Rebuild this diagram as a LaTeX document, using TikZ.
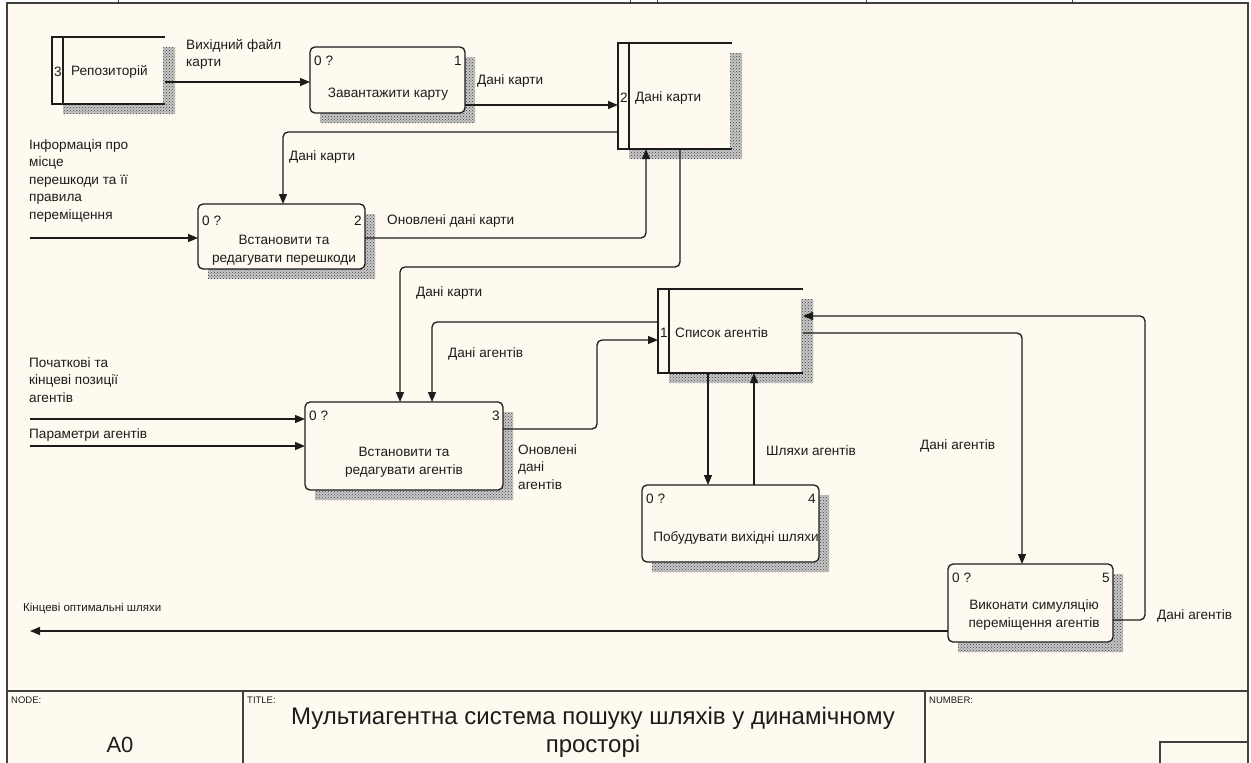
\documentclass[tikz,border=0pt]{standalone}
\usepackage{fontspec}
\setmainfont{Liberation Sans}
\usetikzlibrary{arrows.meta,calc,patterns}
\definecolor{bg}{HTML}{FFFAEF}
\definecolor{ink}{HTML}{1C1C1C}
\newcommand\mkpshadow[1]{%
  \fill[shade] ($(#1.north east)+(-1,10)$) -- ($(#1.north east)+(10,10)$) -- ($(#1.south east)+(10,10)$) -- ($(#1.south west)+(10,10)$) -- ($(#1.south west)+(10,0)$) -- ($(#1.south east)+(-1,0)$) -- cycle;
  \fill[shadedots] ($(#1.north east)+(-1,10)$) -- ($(#1.north east)+(10,10)$) -- ($(#1.south east)+(10,10)$) -- ($(#1.south west)+(10,10)$) -- ($(#1.south west)+(10,0)$) -- ($(#1.south east)+(-1,0)$) -- cycle;}
\newcommand\mksshadow[1]{%
  \fill[shade] ($(#1.north east)+(-2,10)$) -- ($(#1.north east)+(10,10)$) -- ($(#1.south east)+(10,10)$) -- ($(#1.south west)+(11,10)$) -- ($(#1.south west)+(11,0)$) -- ($(#1.south east)+(-2,0)$) -- cycle;
  \fill[shadedots] ($(#1.north east)+(-2,10)$) -- ($(#1.north east)+(10,10)$) -- ($(#1.south east)+(10,10)$) -- ($(#1.south west)+(11,10)$) -- ($(#1.south west)+(11,0)$) -- ($(#1.south east)+(-2,0)$) -- cycle;}
\newcommand\mkstore[1]{%
  \draw[ln] (#1.north west) rectangle ($(#1.south west)+(11,0)$);
  \draw[ln] (#1.north west) -- (#1.north east);
  \draw[ln] (#1.south west) -- (#1.south east);}
\begin{document}
\begin{tikzpicture}[x=1pt,y=-1pt,
  ln/.style={draw=ink, line width=1.3pt},
  flow/.style={ln, rounded corners=5pt, -{Triangle[length=10pt,width=8pt]}},
  procbox/.style={ln, fill=bg, rounded corners=5pt, inner sep=0pt, outer sep=0pt},
  storebox/.style={inner sep=0pt, outer sep=0pt},
  shade/.style={fill=black!22},
  shadedots/.style={pattern=crosshatch dots, pattern color=black!75},
  lbl/.style={font=\fontsize{13.6}{17.5}\selectfont, text=ink, inner sep=0pt, align=left},
  small/.style={font=\fontsize{11.5}{14}\selectfont, text=ink, inner sep=0pt},
  tiny/.style={font=\fontsize{9.5}{10}\selectfont, text=ink, inner sep=0pt, anchor=north west},
  frame/.style={draw=black!75, line width=1.8pt}
]
\useasboundingbox (0,0) rectangle (1251,763);
\fill[white] (0,0) rectangle (1251,763);
\fill[bg] (7,3) rectangle (1248,763);
% frame
\draw[frame] (7,763) -- (7,3) -- (1248,3) -- (1248,763);
\foreach \tx in {118,630,657,866,1072} \draw[draw=black!75, line width=1pt] (\tx,0) -- (\tx,3);
\draw[frame] (7,691) -- (1248,691);
\draw[frame] (243,691) -- (243,763);
\draw[frame] (925,691) -- (925,763);
\draw[draw=black!75, line width=1.3pt] (1160,763) -- (1160,742) -- (1248,742);

% nodes (geometry)
\node[storebox, minimum width=113pt, minimum height=67pt] (s3) at (108.5,70.5) {};
\node[procbox, minimum width=155pt, minimum height=66pt, draw=none, fill=none] (p1) at (387.5,80) {};
\node[storebox, minimum width=114pt, minimum height=106pt] (s2) at (675,96) {};
\node[procbox, minimum width=167pt, minimum height=65pt, draw=none, fill=none] (p2) at (281.5,236.5) {};
\node[procbox, minimum width=198pt, minimum height=88pt, draw=none, fill=none] (p3) at (404,446) {};
\node[storebox, minimum width=145pt, minimum height=84pt] (s1) at (730.5,331) {};
\node[procbox, minimum width=177pt, minimum height=77pt, draw=none, fill=none] (p4) at (730.5,523.5) {};
\node[procbox, minimum width=165pt, minimum height=78pt, draw=none, fill=none] (p5) at (1030.5,603) {};

% shadows
\mksshadow{s3}\mksshadow{s2}\mksshadow{s1}
\mkpshadow{p1}\mkpshadow{p2}\mkpshadow{p3}\mkpshadow{p4}\mkpshadow{p5}

% boxes
\foreach \b in {p1,p2,p3,p4,p5} \draw[procbox] (\b.north west) rectangle (\b.south east);
\mkstore{s3}\mkstore{s2}\mkstore{s1}

% box texts
\node[lbl, anchor=west] (p1n) at (314,61) {0 ?};
\node[lbl, anchor=east] (p1k) at (462,61) {1};
\node[lbl, align=center] (p1t) at (388,94) {Завантажити карту};
\node[lbl, anchor=west] (p2n) at (202,221) {0 ?};
\node[lbl, anchor=east] (p2k) at (362,221) {2};
\node[lbl, align=center] (p2t) at (284,250) {Встановити та\\редагувати перешкоди};
\node[lbl, anchor=west] (p3n) at (309,416) {0 ?};
\node[lbl, anchor=east] (p3k) at (500,416) {3};
\node[lbl, align=center] (p3t) at (404,462) {Встановити та\\редагувати агентів};
\node[lbl, anchor=west] (p4n) at (646,499) {0 ?};
\node[lbl, anchor=east] (p4k) at (816,499) {4};
\node[lbl, align=center] (p4t) at (736,538) {Побудувати вихідні шляхи};
\node[lbl, anchor=west] (p5n) at (952,578) {0 ?};
\node[lbl, anchor=east] (p5k) at (1110,578) {5};
\node[lbl, align=center] (p5t) at (1034,615) {Виконати симуляцію\\переміщення агентів};
% store texts
\node[lbl, anchor=west] (s3k) at (54,72) {3};
\node[lbl, anchor=west] (s3t) at (71,72) {Репозиторій};
\node[lbl, anchor=west] (s2k) at (620,98) {2};
\node[lbl, anchor=west] (s2t) at (635,98) {Дані карти};
\node[lbl, anchor=west] (s1k) at (660,333) {1};
\node[lbl, anchor=west] (s1t) at (675,333) {Список агентів};

% free ends
\coordinate (in1) at (30,238);
\coordinate (in2) at (30,419);
\coordinate (in3) at (30,446);
\coordinate (out1) at (30,631);

% connectors
\draw[flow] (s3.east |- 0,82) -- (p1.west |- 0,82);
\draw[flow] (p1.east |- 0,105) -- (s2.west |- 0,105);
\draw[flow] (s2.west |- 0,132) -- (283,132) -- (283,0 |- p2.north);
\draw[flow] (p2.east |- 0,238) -- (646,238) -- (646,0 |- s2.south);
\draw[flow] (680,0 |- s2.south) -- (680,267) -- (400,267) -- (400,0 |- p3.north);
\draw[flow] (s1.west |- 0,322) -- (432,322) -- (432,0 |- p3.north);
\draw[flow] (p3.east |- 0,429) -- (597,429) -- (597,340) -- (s1.west |- 0,340);
\draw[flow] (708,0 |- s1.south) -- (708,0 |- p4.north);
\draw[flow] (754,0 |- p4.north) -- (754,0 |- s1.south);
\draw[flow] (s1.east |- 0,333) -- (1022,333) -- (1022,0 |- p5.north);
\draw[flow] (p5.east |- 0,620) -- (1145,620) -- (1145,316) -- (s1.east |- 0,316);
\draw[flow] (p5.west |- out1) -- (out1);
\draw[flow] (in1) -- (p2.west |- in1);
\draw[flow] (in2) -- (p3.west |- in2);
\draw[flow] (in3) -- (p3.west |- in3);

% connector labels
\node[lbl, anchor=north west] (l1) at (186,39) {Вихідний файл\\карти};
\node[lbl, anchor=west] (l2) at (477,81) {Дані карти};
\node[lbl, anchor=west] (l3) at (289,157) {Дані карти};
\node[lbl, anchor=west] (l4) at (387,221) {Оновлені дані карти};
\node[lbl, anchor=west] (l5) at (416,293) {Дані карти};
\node[lbl, anchor=west] (l6) at (448,354) {Дані агентів};
\node[lbl, anchor=north west] (l7) at (518,444) {Оновлені\\дані\\агентів};
\node[lbl, anchor=west] (l8) at (766,451) {Шляхи агентів};
\node[lbl, anchor=west] (l9) at (920,446) {Дані агентів};
\node[lbl, anchor=west] (l10) at (1157,616) {Дані агентів};
\node[small, anchor=west] (l11) at (23,608) {Кінцеві оптимальні шляхи};
\node[lbl, anchor=north west] (l12) at (29,139) {Інформація про\\місце\\перешкоди та її\\правила\\переміщення};
\node[lbl, anchor=north west] (l13) at (29,357) {Початкові та\\кінцеві позиції\\агентів};
\node[lbl, anchor=west] (l14) at (29,435) {Параметри агентів};

% title block
\node[tiny] (tn) at (11,697) {NODE:};
\node[font=\fontsize{22}{26}\selectfont, text=ink, inner sep=0pt] (ta) at (120,745) {A0};
\node[tiny] (tt) at (247,697) {TITLE:};
\node[font=\fontsize{24}{28}\selectfont, text=ink, inner sep=0pt, align=center] (ttl) at (593,732) {Мультиагентна система пошуку шляхів у динамічному\\просторі};
\node[tiny] (tnum) at (929,697) {NUMBER:};
\end{tikzpicture}
\end{document}
